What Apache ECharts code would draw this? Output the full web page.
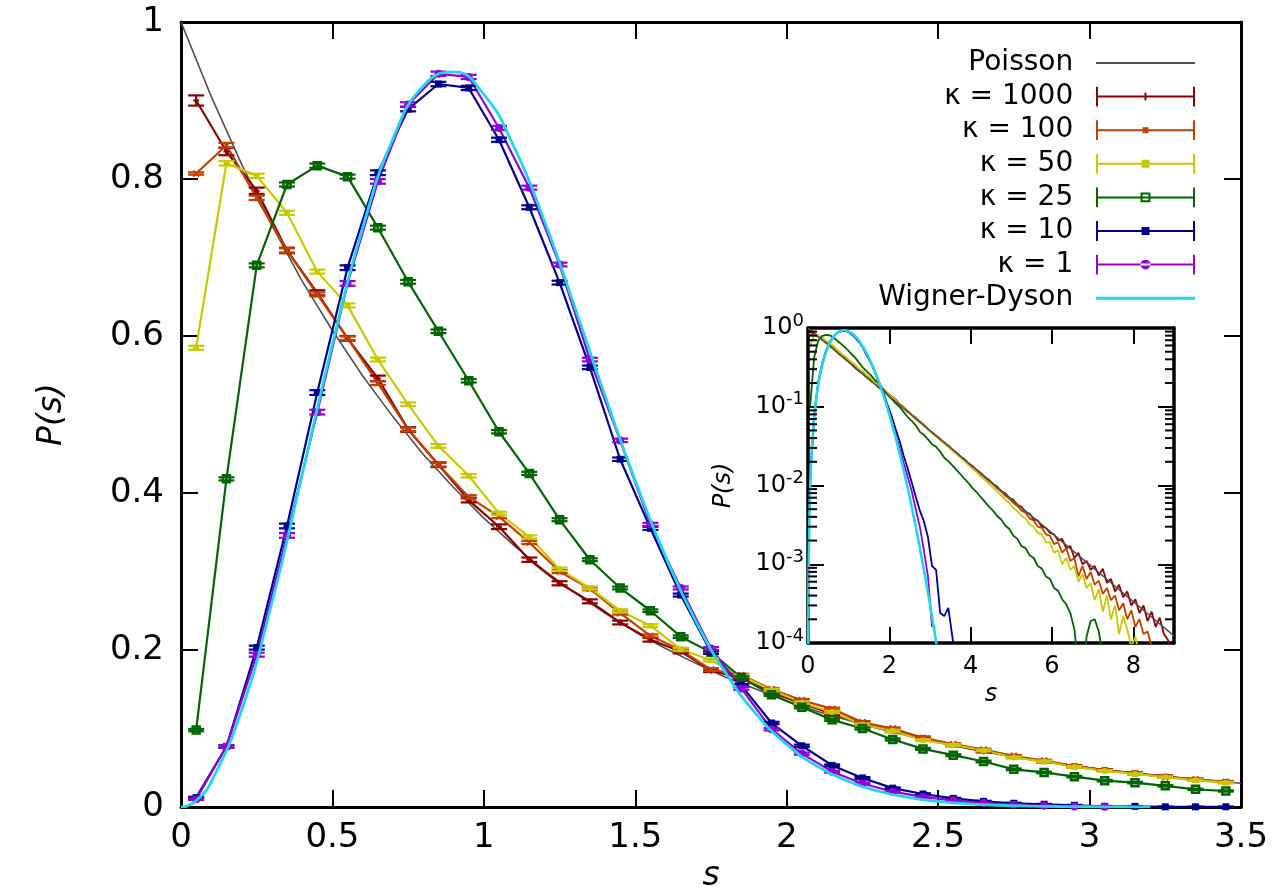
<!DOCTYPE html>
<html><head><meta charset="utf-8">
<script src="https://cdn.jsdelivr.net/npm/echarts@6/dist/echarts.min.js"></script>
<style>html,body{margin:0;padding:0;background:#fff}#c{width:1272px;height:887px}</style>
</head><body><div id="c"></div>
<script>
// ---------- data ----------
const sMain = [0.05,0.15,0.25,0.35,0.45,0.55,0.65,0.75,0.85,0.95,1.05,1.15,1.25,1.35,1.45,1.55,1.65,1.75,1.85,1.95,2.05,2.15,2.25,2.35,2.45,2.55,2.65,2.75,2.85,2.95,3.05,3.15,3.25,3.35,3.45];
const sTail = [3.55,3.65,3.75,3.85,3.95,4.05,4.15,4.25,4.35,4.45,4.55,4.65,4.75,4.85,4.95,5.05,5.15,5.25,5.35,5.45,5.55,5.65,5.75,5.85,5.95,6.05,6.15,6.25,6.35,6.45,6.55,6.65,6.75,6.85,6.95,7.05,7.15,7.25,7.35,7.45,7.55,7.65,7.75,7.85,7.95,8.05,8.15,8.25,8.35,8.45,8.55,8.65,8.75,8.85,8.95];

const k1000 = [0.900,0.835,0.785,0.709,0.655,0.597,0.546,0.481,0.436,0.391,0.357,0.315,0.285,0.262,0.235,0.213,0.198,0.174,0.164,0.146,0.132,0.119,0.107,0.097,0.088,0.079,0.071,0.064,0.058,0.052,0.047,0.043,0.039,0.035,0.032];
const k100  = [0.807,0.843,0.776,0.709,0.653,0.597,0.540,0.481,0.436,0.395,0.370,0.337,0.300,0.278,0.247,0.218,0.200,0.175,0.168,0.150,0.136,0.125,0.108,0.100,0.088,0.080,0.073,0.065,0.059,0.052,0.047,0.043,0.038,0.035,0.032];
const k50   = [0.585,0.820,0.804,0.757,0.682,0.639,0.570,0.513,0.460,0.422,0.374,0.344,0.303,0.279,0.250,0.231,0.201,0.187,0.167,0.149,0.133,0.121,0.105,0.097,0.085,0.079,0.072,0.063,0.058,0.051,0.046,0.042,0.038,0.034,0.031];
const k25   = [0.098,0.418,0.690,0.793,0.817,0.803,0.738,0.669,0.606,0.543,0.478,0.425,0.366,0.315,0.279,0.250,0.217,0.197,0.165,0.143,0.127,0.111,0.100,0.086,0.074,0.066,0.058,0.048,0.044,0.0386,0.0335,0.031,0.027,0.0225,0.0204];
const k10   = [0.012,0.077,0.203,0.358,0.528,0.687,0.808,0.889,0.921,0.916,0.850,0.764,0.668,0.560,0.443,0.355,0.270,0.197,0.155,0.107,0.078,0.053,0.037,0.024,0.0166,0.011,0.0072,0.0048,0.0035,0.0022,0.00095,0.00085,0.00024,0.00022,0.00028];
const k1    = [0.010,0.077,0.194,0.346,0.503,0.667,0.797,0.895,0.934,0.930,0.865,0.789,0.691,0.570,0.467,0.360,0.279,0.202,0.151,0.099,0.068,0.045,0.030,0.0195,0.013,0.0085,0.005,0.003,0.0015,0.0007,0.00016];

const err1000 = [0.0065,0.0047,0.004,0.0035,0.0032,0.003,0.0035,0.003,0.003,0.003,0.003,0.0028,0.0026,0.0025,0.0024,0.0023,0.0022,0.0021,0.002,0.002,0.0019,0.0018,0.0018,0.0017,0.0016,0.0016,0.0015,0.0015,0.0014,0.0014,0.0013,0.0013,0.0012,0.0012,0.0012];
const err100  = [0.0015,0.003,0.0028,0.0026,0.0025,0.0024,0.0024,0.0023,0.0022,0.0022,0.0021,0.002,0.002,0.0019,0.0019,0.0018,0.0018,0.0017,0.0017,0.0016,0.0016,0.0015,0.0015,0.0014,0.0014,0.0013,0.0013,0.0012,0.0012,0.0012,0.0011,0.0011,0.001,0.001,0.001];
const err50   = [0.0025,0.0028,0.0027,0.0026,0.0025,0.0025,0.0024,0.0023,0.0023,0.0022,0.0021,0.002,0.002,0.0019,0.0019,0.0018,0.0018,0.0017,0.0016,0.0016,0.0015,0.0015,0.0014,0.0014,0.0013,0.0013,0.0012,0.0012,0.0012,0.0011,0.0011,0.001,0.001,0.001,0.001];
const err25   = [0.0015,0.002,0.0025,0.0026,0.0027,0.0026,0.0025,0.0024,0.0023,0.0022,0.0021,0.002,0.0019,0.0018,0.0018,0.0017,0.0016,0.0016,0.0015,0.0015,0.0014,0.0014,0.0013,0.0013,0.0012,0.0012,0.0011,0.0011,0.001,0.001,0.001,0.0009,0.0009,0.0009,0.0008];
const err10   = [0.001,0.0015,0.0025,0.003,0.003,0.003,0.003,0.0028,0.0028,0.0027,0.0026,0.0025,0.0024,0.0023,0.0022,0.002,0.0019,0.0018,0.0016,0.0015,0.0014,0.0012,0.0011,0.001,0.0009,0.0008,0.0007,0.0006,0.0005,0.0005,0.0004,0.0004,0.0003,0.0003,0.0003];
const err1    = [0.001,0.0015,0.0025,0.003,0.003,0.003,0.003,0.0028,0.0028,0.0027,0.0026,0.0025,0.0024,0.0023,0.0022,0.002,0.0019,0.0018,0.0016,0.0015,0.0014,0.0012,0.0011,0.001,0.0009,0.0008,0.0007,0.0006,0.0005,0.0005,0.0004];

// inset tails (s = 3.55 ...)
const tail1000 = [0.0285,0.0262,0.0233,0.0215,0.0190,0.0176,0.0156,0.0144,0.0127,0.0118,0.0104,0.0097,0.0084,0.0080,0.0069,0.0066,0.0056,0.0054,0.0045,0.0044,0.0037,0.0036,0.0030,0.0029,0.0025,0.0024,0.0020,0.0021,0.0016,0.0017,0.0012,0.0014,0.0010,0.0011,0.00085,0.00095,0.00072,0.00088,0.00058,0.00065,0.00045,0.00055,0.00038,0.00045,0.00030,0.00036,0.00024,0.00030,0.00019,0.00025,0.00016,0.00021,0.00013,0.00011,0.00007];
const tail100 = [0.0284,0.0258,0.0232,0.0211,0.0190,0.0171,0.0156,0.0140,0.0127,0.0114,0.0104,0.0092,0.0084,0.0074,0.0068,0.0060,0.0055,0.0048,0.0045,0.0038,0.0036,0.0030,0.0029,0.0024,0.0023,0.0018,0.0019,0.0014,0.0016,0.0011,0.0012,0.00070,0.00095,0.00065,0.00080,0.00055,0.00062,0.00042,0.00050,0.00035,0.00040,0.00026,0.00032,0.00020,0.00026,0.00016,0.00020,0.00013,0.00014,0.00009,0.00006];
const tail50 = [0.0276,0.0250,0.0225,0.0203,0.0182,0.0163,0.0147,0.0131,0.0118,0.0106,0.0094,0.0084,0.0075,0.0066,0.0060,0.0052,0.0047,0.0041,0.0038,0.0032,0.0030,0.0025,0.0024,0.0019,0.0019,0.0014,0.0015,0.0010,0.0012,0.00085,0.00095,0.00060,0.00075,0.00050,0.00058,0.00035,0.00048,0.00025,0.00040,0.00020,0.00030,0.00013,0.00022,0.00015,0.00009,0.00012,0.00007];
const tail25 = [0.0180,0.0158,0.0139,0.0121,0.0107,0.0092,0.0082,0.0071,0.0062,0.0054,0.0048,0.0041,0.0037,0.0031,0.0028,0.0023,0.0021,0.0017,0.0016,0.0013,0.0012,0.00095,0.00088,0.00070,0.00065,0.00050,0.00046,0.00036,0.00031,0.00024,0.00015,0.00005,0.00003,0.00012,0.00019,0.00020,0.00014,0.00007];
const tail10 = [0.00012,0.00005];

const poissonS = [0,0.1,0.2,0.3,0.4,0.5,0.6,0.7,0.8,0.9,1.0,1.1,1.2,1.3,1.4,1.5,1.6,1.7,1.8,1.9,2.0,2.1,2.2,2.3,2.4,2.5,2.6,2.7,2.8,2.9,3.0,3.1,3.2,3.3,3.4,3.5,4,4.5,5,5.5,6,6.5,7,7.5,8,8.5,9];
const poissonP = [1,0.905,0.819,0.741,0.670,0.607,0.549,0.497,0.449,0.407,0.368,0.333,0.301,0.273,0.247,0.223,0.202,0.183,0.165,0.150,0.135,0.122,0.111,0.100,0.0907,0.0821,0.0743,0.0672,0.0608,0.0550,0.0498,0.0450,0.0408,0.0369,0.0334,0.0302,0.0183,0.0111,0.00674,0.00409,0.00248,0.00150,0.000912,0.000553,0.000335,0.000203,0.000123];

const wdS = [0,0.005,0.01,0.02,0.05,0.1,0.2,0.3,0.4,0.5,0.6,0.7,0.8,0.9,1.0,1.1,1.2,1.3,1.4,1.5,1.6,1.7,1.8,1.9,2.0,2.1,2.2,2.3,2.4,2.5,2.6,2.7,2.8,2.9,3.0,3.1,3.2];
const wdP = [0,0.000081,0.000324,0.0013,0.0081,0.0320,0.1233,0.2602,0.4232,0.5896,0.7380,0.8514,0.9186,0.9364,0.9077,0.8405,0.7465,0.6371,0.5240,0.4159,0.3189,0.2365,0.1698,0.1181,0.0797,0.0521,0.0331,0.0204,0.0122,0.0071,0.00401,0.00220,0.00117,0.00061,0.000308,0.000151,0.000072];

const xTicksMain = {min:0, max:3.5, step:0.5};
const yTicksMain = {min:0, max:1, step:0.2};
const xTicksInset = {min:0, max:9, step:2};
const yInset = {min:1e-4, max:1};

// ---------- styling ----------
const FONT = 'DejaVu Sans, Verdana, sans-serif';
const C = {poi:'#505050', k1000:'#8b0000', k100:'#c04000', k50:'#c8c800', k25:'#006400', k10:'#00008b', k1:'#9400d3', wd:'#1fd6ea'};
const NAMES = {poi:'Poisson', k1000:'κ = 1000', k100:'κ = 100', k50:'κ = 50', k25:'κ = 25', k10:'κ = 10', k1:'κ = 1', wd:'Wigner-Dyson'};

function pairs(sArr, vArr){ const n=Math.min(sArr.length,vArr.length); const out=[]; for(let i=0;i<n;i++) out.push([sArr[i],vArr[i]]); return out; }
function positive(d){ return d.filter(p=>p[1]>0); }

function markerEl(type, c, color){
  const x=c[0], y=c[1];
  const st={stroke:color, lineWidth:2, fill:'none'};
  switch(type){
    case 'plus': return {type:'group',children:[
      {type:'line',shape:{x1:x-3,y1:y,x2:x+3,y2:y},style:st},
      {type:'line',shape:{x1:x,y1:y-3,x2:x,y2:y+3},style:st}]};
    case 'cross': return {type:'group',children:[
      {type:'line',shape:{x1:x-3,y1:y-3,x2:x+3,y2:y+3},style:st},
      {type:'line',shape:{x1:x-3,y1:y+3,x2:x+3,y2:y-3},style:st}]};
    case 'dot': return {type:'circle',shape:{cx:x,cy:y,r:3},style:{fill:color}};
    case 'osq': return {type:'rect',shape:{x:x-3.5,y:y-3.5,width:7,height:7},style:{stroke:color,lineWidth:2.5,fill:'none'}};
    case 'sq': return {type:'rect',shape:{x:x-3.5,y:y-3.5,width:7,height:7},style:{fill:color}};
    default: return {type:'circle',shape:{cx:x,cy:y,r:4},style:{fill:color}};
  }
}

function errSeries(key, vals, errs, marker){
  const color=C[key];
  const data = vals.map((v,i)=>[sMain[i], v, errs[i]]);
  return {
    type:'custom', name:NAMES[key], xAxisIndex:0, yAxisIndex:0, z:3, silent:true,
    itemStyle:{color:color},
    encode:{x:0,y:1},
    data:data,
    renderItem:(params, api)=>{
      const x=api.value(0), y=api.value(1), e=api.value(2);
      const c=api.coord([x,y]), hi=api.coord([x,y+e]), lo=api.coord([x,y-e]);
      const hw=8, st={stroke:color,lineWidth:2.2};
      return {type:'group', children:[
        {type:'line',shape:{x1:c[0],y1:hi[1],x2:c[0],y2:lo[1]},style:st},
        {type:'line',shape:{x1:c[0]-hw,y1:hi[1],x2:c[0]+hw,y2:hi[1]},style:st},
        {type:'line',shape:{x1:c[0]-hw,y1:lo[1],x2:c[0]+hw,y2:lo[1]},style:st},
        markerEl(marker, c, color)
      ]};
    }
  };
}
function lineSeries(key, data, xi, yi, width, extra){
  return Object.assign({
    type:'line', name:NAMES[key], xAxisIndex:xi, yAxisIndex:yi, data:data,
    showSymbol:false, symbol:'none', z:2, silent:true, clip:true,
    lineStyle:{color:C[key], width:width}, itemStyle:{color:C[key]}
  }, extra||{});
}

// minor log ticks for inset (axis decoration)
const minorVals=[]; for(let n=-4;n<0;n++){ for(let k=2;k<10;k++) minorVals.push([k*Math.pow(10,n)]); }

const series = [];
series.push(lineSeries('poi', pairs(poissonS.slice(0,36), poissonP.slice(0,36)), 0, 0, 1.6));
series.push(lineSeries('k1000', pairs(sMain,k1000), 0, 0, 2.2));
series.push(errSeries('k1000', k1000, err1000, 'plus'));
series.push(lineSeries('k100', pairs(sMain,k100), 0, 0, 2.2));
series.push(errSeries('k100', k100, err100, 'cross'));
series.push(lineSeries('k50', pairs(sMain,k50), 0, 0, 2.2));
series.push(errSeries('k50', k50, err50, 'dot'));
series.push(lineSeries('k25', pairs(sMain,k25), 0, 0, 2.2));
series.push(errSeries('k25', k25, err25, 'osq'));
series.push(lineSeries('k10', pairs(sMain,k10), 0, 0, 2.2));
series.push(errSeries('k10', k10, err10, 'sq'));
series.push(lineSeries('k1', pairs(sMain,k1), 0, 0, 2.2));
series.push(errSeries('k1', k1, err1, 'circ'));
series.push(lineSeries('wd', pairs(wdS,wdP), 0, 0, 2.8, {smooth:true, z:4}));

// inset
const inS = sMain.concat(sTail);
series.push(lineSeries('k1000', positive(pairs(inS, k1000.concat(tail1000))), 2, 2, 1.8));
series.push(lineSeries('k100', positive(pairs(inS, k100.concat(tail100))), 2, 2, 1.8));
series.push(lineSeries('k50', positive(pairs(inS, k50.concat(tail50))), 2, 2, 1.8));
series.push(lineSeries('k25', positive(pairs(inS, k25.concat(tail25))), 2, 2, 1.8));
series.push(lineSeries('k10', positive(pairs(inS, k10.concat(tail10))), 2, 2, 1.8));
series.push(lineSeries('k1', positive(pairs(sMain, k1)), 2, 2, 1.8));
series.push(lineSeries('poi', positive(pairs(poissonS, poissonP)), 2, 2, 1.5, {z:3}));
series.push(lineSeries('wd', positive(pairs(wdS, wdP)), 2, 2, 2.6, {smooth:true, z:4}));
series.push({
  type:'custom', name:'minor', xAxisIndex:2, yAxisIndex:2, silent:true, z:6,
  data:minorVals, encode:{y:0},
  renderItem:(params, api)=>{
    const v=api.value(0);
    const l=api.coord([xTicksInset.min, v]), r=api.coord([xTicksInset.max, v]);
    const st={stroke:'#000', lineWidth:2};
    return {type:'group', children:[
      {type:'line',shape:{x1:l[0],y1:l[1],x2:l[0]+9,y2:l[1]},style:st},
      {type:'line',shape:{x1:r[0],y1:r[1],x2:r[0]-9,y2:r[1]},style:st}
    ]};
  }
});

const AX = {color:'#000', width:3};
function axisBase(extra){
  return Object.assign({
    axisLine:{show:true, onZero:false, lineStyle:AX},
    axisTick:{show:true, inside:true, length:17, lineStyle:{color:'#000', width:2}},
    splitLine:{show:false},
    minorTick:{show:false}
  }, extra);
}
const labMain = {fontSize:34, color:'#000', fontFamily:FONT};
const labIn = {fontSize:24, color:'#000', fontFamily:FONT};

const barIcon = (mk)=>'path://M0,0h2v20h-2zM0,9h100v2h-100zM98,0h2v20h-2z'+mk;
const LINE_ICON = 'path://M0,0h100v2h-100z';
const LINE_ICON_W = 'path://M0,0h100v3h-100z';

const option = {
  animation:false,
  backgroundColor:'#fff',
  grid:[
    {left:181, top:22, width:1060, height:785, containLabel:false, outerBoundsMode:'none'},
    {left:808, top:328, width:366, height:315, containLabel:false, outerBoundsMode:'none', show:true, backgroundColor:'#fff', borderWidth:0}
  ],
  xAxis:[
    axisBase({gridIndex:0, type:'value', position:'bottom', min:xTicksMain.min, max:xTicksMain.max, interval:xTicksMain.step,
      axisLabel:Object.assign({margin:14}, labMain),
      name:'s', nameLocation:'middle', nameGap:48,
      nameTextStyle:{fontSize:33, fontStyle:'italic', color:'#000', fontFamily:FONT}}),
    axisBase({gridIndex:0, type:'value', position:'top', min:xTicksMain.min, max:xTicksMain.max, interval:xTicksMain.step,
      axisLabel:{show:false}}),
    axisBase({gridIndex:1, type:'value', position:'bottom', min:xTicksInset.min, max:xTicksInset.max, interval:xTicksInset.step,
      axisLine:{show:true,onZero:false,lineStyle:{color:'#000',width:3.5}},
      axisTick:{show:true, inside:true, length:16, lineStyle:{color:'#000', width:2}},
      axisLabel:Object.assign({margin:12, showMaxLabel:false}, labIn),
      name:'s', nameLocation:'middle', nameGap:40,
      nameTextStyle:{fontSize:24, fontStyle:'italic', color:'#000', fontFamily:FONT}}),
    axisBase({gridIndex:1, type:'value', position:'top', min:xTicksInset.min, max:xTicksInset.max, interval:xTicksInset.step,
      axisLine:{show:true,onZero:false,lineStyle:{color:'#000',width:3.5}},
      axisTick:{show:true, inside:true, length:16, lineStyle:{color:'#000', width:2}},
      axisLabel:{show:false}})
  ],
  yAxis:[
    axisBase({gridIndex:0, type:'value', position:'left', min:yTicksMain.min, max:yTicksMain.max, interval:yTicksMain.step,
      axisLabel:Object.assign({margin:17}, labMain),
      name:'P(s)', nameLocation:'middle', nameGap:112, nameRotate:90,
      nameTextStyle:{fontSize:33, fontStyle:'italic', color:'#000', fontFamily:FONT}}),
    axisBase({gridIndex:0, type:'value', position:'right', min:yTicksMain.min, max:yTicksMain.max, interval:yTicksMain.step,
      axisLabel:{show:false}}),
    axisBase({gridIndex:1, type:'log', logBase:10, position:'left', min:yInset.min, max:yInset.max,
      axisLine:{show:true,onZero:false,lineStyle:{color:'#000',width:3.5}},
      axisTick:{show:true, inside:true, length:16, lineStyle:{color:'#000', width:2}},
      axisLabel:Object.assign({margin:4,
        formatter:(v)=>'10{sup|'+Math.round(Math.log10(v))+'}',
        rich:{sup:{fontSize:18, color:'#000', fontFamily:FONT, verticalAlign:'top', lineHeight:18}}}, labIn, {lineHeight:32}),
      name:'P(s)', nameLocation:'middle', nameGap:72, nameRotate:90,
      nameTextStyle:{fontSize:24, fontStyle:'italic', color:'#000', fontFamily:FONT}}),
    axisBase({gridIndex:1, type:'log', logBase:10, position:'right', min:yInset.min, max:yInset.max,
      axisLine:{show:true,onZero:false,lineStyle:{color:'#000',width:3.5}},
      axisTick:{show:true, inside:true, length:16, lineStyle:{color:'#000', width:2}},
      axisLabel:{show:false}})
  ],
  legend:{
    orient:'vertical', right:72, top:44, align:'right',
    itemWidth:99, itemHeight:20, itemGap:5.6, selectedMode:false,
    textStyle:{fontSize:28, color:'#000', fontFamily:FONT},
    formatter:(n)=>n+'  ',
    itemStyle:{borderWidth:0},
    data:[
      {name:NAMES.poi, icon:LINE_ICON, itemStyle:{color:C.poi, borderWidth:0}},
      {name:NAMES.k1000, icon:barIcon('M49,6h2v8h-2z'), itemStyle:{color:C.k1000, borderWidth:0}},
      {name:NAMES.k100, icon:barIcon('M47,7h6v6h-6z'), itemStyle:{color:C.k100, borderWidth:0}},
      {name:NAMES.k50, icon:barIcon('M46,6h8v8h-8z'), itemStyle:{color:C.k50, borderWidth:0}},
      {name:NAMES.k25, icon:barIcon('M45,5h10v10h-10zM47,7v6h6v-6z'), itemStyle:{color:C.k25, borderWidth:0}},
      {name:NAMES.k10, icon:barIcon('M46,6h8v8h-8z'), itemStyle:{color:C.k10, borderWidth:0}},
      {name:NAMES.k1, icon:barIcon('M45,10a5,5 0 1,0 10,0a5,5 0 1,0 -10,0z'), itemStyle:{color:C.k1, borderWidth:0}},
      {name:NAMES.wd, icon:LINE_ICON_W, itemStyle:{color:C.wd, borderWidth:0}}
    ]
  },
  series:series
};
const chart = echarts.init(document.getElementById('c'), null, {renderer:'canvas'});
chart.setOption(option);
</script></body></html>
